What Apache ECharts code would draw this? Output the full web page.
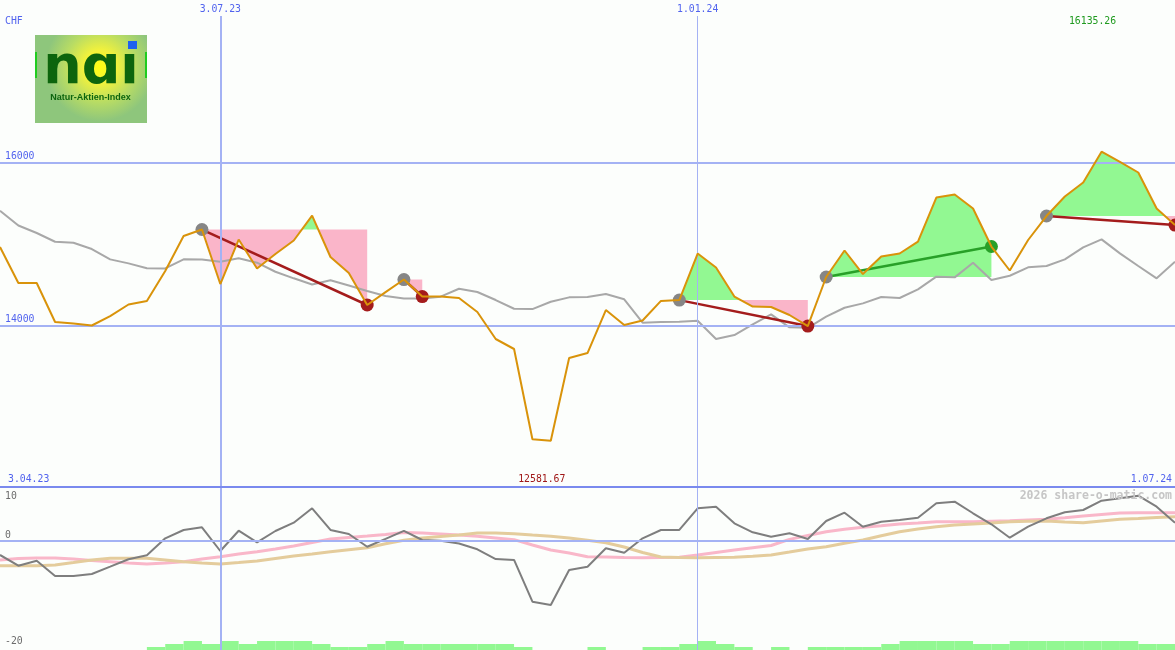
<!DOCTYPE html>
<html><head><meta charset="utf-8">
<script src="https://cdn.jsdelivr.net/npm/echarts@6/dist/echarts.min.js"></script>
<style>html,body{margin:0;padding:0;background:#fcfefc}#c{width:1175px;height:650px}</style>
</head><body><div id="c"></div>
<script>
// ---- data (weekly points, index 0 .. 64) ----
const currency = 'CHF';
const dateTickIdx = [12, 38];
const dateTickLabels = ['3.07.23', '1.01.24'];
const startLabel = '3.04.23';
const endLabel = '1.07.24';
const priceTicks = [14000, 16000];
const momTicks = [10, 0, -20];
const watermark = '2026 share-o-matic.com';

const price = [14963,14520,14520,14041,14022,13998,14114,14256,14299,14668,
  15098,15178,14508,15055,14698,14877,15043,15350,14840,14643,
  14250,14409,14563,14354,14354,14336,14164,13832,13709,12600,
  12581.67,13598,13659,14188,14004,14059,14300,14310,14883,14711,
  14354,14231,14225,14127,13991,14594,14920,14631,14846,14883,
  15030,15571,15608,15436,14969,14674,15049,15344,15584,15756,
  16135.26,16010,15879,15436,15233];
const avg = [15409,15227,15135,15028,15016,14938,14811,14762,14701,14700,
  14811,14810,14782,14824,14770,14659,14578,14502,14555,14489,
  14422,14360,14330,14330,14352,14450,14410,14311,14204,14200,
  14290,14344,14348,14385,14320,14032,14041,14044,14057,13832,
  13881,14012,14135,13975,13970,14106,14216,14270,14348,14336,
  14443,14598,14590,14770,14557,14610,14713,14729,14811,14959,
  15057,14885,14729,14578,14782];
const momentum = [-2.64,-4.66,-3.72,-6.6,-6.6,-6.23,-4.85,-3.45,-2.7,0.51,
  2.08,2.58,-1.89,1.94,-0.25,1.89,3.45,6.17,2.08,1.32,
  -1.08,0.4,1.9,0.19,0.06,-0.47,-1.57,-3.4,-3.58,-11.45,
  -12.08,-5.47,-4.85,-1.38,-2.21,0.51,2.08,2.08,6.17,6.47,
  3.34,1.64,0.81,1.45,0.38,3.77,5.34,2.7,3.64,3.96,
  4.4,7.11,7.42,5.23,3.15,0.62,2.7,4.28,5.42,5.85,
  7.6,8.06,8.55,6.47,3.45];
const signalPink = [-3.58,-3.3,-3.21,-3.21,-3.4,-3.68,-3.91,-4.15,-4.34,-4.15,
  -3.91,-3.4,-2.96,-2.45,-2.02,-1.51,-0.94,-0.28,0.38,0.66,
  0.94,1.23,1.6,1.51,1.32,1.13,0.89,0.57,0.25,-0.75,
  -1.7,-2.26,-2.96,-3.02,-3.11,-3.15,-3.11,-3.08,-2.64,-2.17,
  -1.7,-1.26,-0.85,0.3,1.05,1.75,2.2,2.58,2.89,3.21,
  3.4,3.64,3.64,3.64,3.74,3.83,3.96,4.09,4.4,4.72,
  5,5.28,5.34,5.34,5.34];
const signalTan = [-4.66,-4.66,-4.66,-4.53,-4.06,-3.58,-3.26,-3.26,-3.26,-3.58,
  -3.91,-4.15,-4.34,-4.06,-3.77,-3.3,-2.83,-2.45,-2.02,-1.64,
  -1.26,-0.51,0.13,0.57,0.85,1.13,1.51,1.51,1.38,1.13,
  0.89,0.57,0.13,-0.32,-1.13,-2.17,-3.02,-3.11,-3.15,-3.11,
  -3.08,-2.87,-2.64,-2.08,-1.51,-1.08,-0.43,0.19,1.0,1.75,
  2.26,2.7,3.02,3.21,3.4,3.64,3.72,3.77,3.58,3.45,
  3.77,4.09,4.25,4.43,4.58];
// one value per week interval (0..63)
const volume = [0,0,0,0,0,0,0,0,1,2,3,2,3,2,3,3,3,2,1,1,2,3,
  2,2,2,2,2,2,1,0,0,0,1,0,0,1,1,2,3,2,1,0,1,0,
  1,1,1,1,2,3,3,3,3,2,2,3,3,3,3,3,3,3,2,2];
const sigStart = [11, 22, 37, 45, 57];
const sigEnd = [20, 23, 44, 54, 64];

// ---- styles ----
const BLUE = '#5163ee';
const GRIDC = '#a4b2f4';
const mono = '"DejaVu Sans Mono", monospace';
const N = price.length - 1;

const xy = arr => arr.map((v, i) => [i, v]);

function fillPts(s, e, L, above) {
  const pts = [[s, L]];
  for (let i = s; i <= e; i++) {
    const v = price[i];
    pts.push([i, above ? Math.max(v, L) : Math.min(v, L)]);
    if (i < e) {
      const w = price[i + 1];
      if ((v - L) * (w - L) < 0) {
        const t = (L - v) / (w - v);
        pts.push([i + t, L]);
      }
    }
  }
  pts.push([e, L]);
  return pts;
}

const chart = echarts.init(document.getElementById('c'), null, {renderer: 'canvas'});
const option = {
  backgroundColor: '#fcfefc',
  animation: false,
  grid: [
    {left: 0, right: 0, top: 0, height: 488},
    {left: 0, right: 0, top: 488, height: 162},
    {left: 0, right: 0, top: 641, height: 9}
  ],
  xAxis: [0, 1, 2].map(g => ({type: 'value', gridIndex: g, min: 0, max: N, show: false})),
  yAxis: [
    {type: 'value', gridIndex: 0, min: 12000, max: 18000, show: false},
    {type: 'value', gridIndex: 1, min: -20.57, max: 10, show: false},
    {type: 'value', gridIndex: 2, min: 0, max: 3, show: false}
  ],
  series: [
    { // volume-like bars
      type: 'custom', xAxisIndex: 2, yAxisIndex: 2, z: 1, silent: true,
      data: volume.map((v, i) => [i, v]),
      renderItem: (params, api) => {
        const i = api.value(0), v = api.value(1);
        if (!v) return null;
        const a = api.coord([i, v]), b = api.coord([i + 1, 0]);
        return {type: 'rect', shape: {x: a[0], y: a[1], width: b[0] - a[0], height: b[1] - a[1]}, style: {fill: '#92f892'}};
      }
    },
    { // signal fills
      type: 'custom', xAxisIndex: 0, yAxisIndex: 0, z: 1, silent: true,
      data: sigStart.map((s, k) => [s, sigEnd[k], price[s]]),
      encode: {x: [0, 1], y: 2},
      renderItem: (params, api) => {
        const k = params.dataIndex;
        const s = sigStart[k], e = sigEnd[k], L = price[s];
        const up = fillPts(s, e, L, true).map(p => api.coord(p));
        const dn = fillPts(s, e, L, false).map(p => api.coord(p));
        return {type: 'group', children: [
          {type: 'polygon', shape: {points: up}, style: {fill: '#92f892'}},
          {type: 'polygon', shape: {points: dn}, style: {fill: '#fab5c9'}}
        ]};
      }
    },
    { // grid lines main panel
      type: 'line', xAxisIndex: 0, yAxisIndex: 0, data: [], z: 2, silent: true,
      markLine: {
        silent: true, symbol: ['none', 'none'], label: {show: false},
        data: [
          ...priceTicks.map(v => ({yAxis: v, lineStyle: {color: GRIDC, width: 2, type: 'solid'}})),
          ...dateTickIdx.map((d, k) => [
            {coord: [d, 17803], lineStyle: {color: GRIDC, width: k === 0 ? 2 : 1, type: 'solid'}},
            {coord: [d, 12000]}
          ])
        ]
      }
    },
    { // grid lines lower panel
      type: 'line', xAxisIndex: 1, yAxisIndex: 1, data: [], z: 2, silent: true,
      markLine: {
        silent: true, symbol: ['none', 'none'], label: {show: false},
        data: [
          {yAxis: 0, lineStyle: {color: GRIDC, width: 2, type: 'solid'}},
          ...dateTickIdx.map((d, k) => ({xAxis: d, lineStyle: {color: GRIDC, width: k === 0 ? 2 : 1, type: 'solid'}}))
        ]
      }
    },
    {
      type: 'line', xAxisIndex: 0, yAxisIndex: 0, data: xy(avg), z: 3, symbol: 'none',
      lineStyle: {color: '#a8a8a8', width: 2}
    },
    {
      type: 'lines', coordinateSystem: 'cartesian2d', xAxisIndex: 0, yAxisIndex: 0, z: 4,
      data: sigStart.map((s, k) => {
        const e = sigEnd[k];
        return {coords: [[s, price[s]], [e, price[e]]],
          lineStyle: {color: price[e] >= price[s] ? '#28a028' : '#a41c1c', width: 2.5, opacity: 1}};
      })
    },
    {
      type: 'scatter', xAxisIndex: 0, yAxisIndex: 0, z: 5, symbolSize: 13,
      data: [
        ...sigStart.map(s => ({value: [s, price[s]], itemStyle: {color: '#868686', opacity: 1}})),
        ...sigEnd.map((e, k) => ({value: [e, price[e]],
          itemStyle: {color: price[e] >= price[sigStart[k]] ? '#28a028' : '#a41c1c', opacity: 1}}))
      ]
    },
    {
      type: 'line', xAxisIndex: 0, yAxisIndex: 0, data: xy(price), z: 6, symbol: 'none',
      lineStyle: {color: '#d9930a', width: 2}
    },
    {
      type: 'line', xAxisIndex: 1, yAxisIndex: 1, data: xy(signalPink), z: 3, symbol: 'none',
      lineStyle: {color: '#f9b7c9', width: 3}
    },
    {
      type: 'line', xAxisIndex: 1, yAxisIndex: 1, data: xy(signalTan), z: 3, symbol: 'none',
      lineStyle: {color: '#e4cc9c', width: 3}
    },
    {
      type: 'line', xAxisIndex: 1, yAxisIndex: 1, data: xy(momentum), z: 4, symbol: 'none',
      lineStyle: {color: '#7e7e7e', width: 2}
    }
  ]
};
chart.setOption(option);

// ---- texts and decorations, positioned through the chart's scales ----
const P = (g, x, y) => chart.convertToPixel({gridIndex: g}, [x, y]);
const els = [];
function txt(x, y, text, fill, align, font) {
  els.push({type: 'text', x: x, y: y, z: 50, silent: true,
    style: {text: text, fill: fill, font: font || ('9.8px ' + mono),
      textAlign: align, align: align, textVerticalAlign: 'middle', verticalAlign: 'middle'}});
}
els.push({type: 'rect', z: 40, silent: true, shape: {x: 0, y: P(1, 0, 10)[1] - 2, width: 1175, height: 2}, style: {fill: '#7a8aee'}});
txt(5, 21, currency, BLUE, 'left');
dateTickIdx.forEach((d, k) => txt(P(0, d, 17803)[0], 9, dateTickLabels[k], BLUE, 'center'));
priceTicks.forEach(v => txt(5, P(0, 0, v)[1] - 6, String(v), BLUE, 'left'));
let iMax = 0, iMin = 0;
price.forEach((v, i) => { if (v > price[iMax]) iMax = i; if (v < price[iMin]) iMin = i; });
txt(P(0, iMax, 0)[0] - 9, 21, price[iMax].toFixed(2), '#1f9a1f', 'center');
txt(P(0, iMin, 0)[0] - 9, 479, price[iMin].toFixed(2), '#a01818', 'center');
txt(8, 479, startLabel, BLUE, 'left');
txt(1172, 479, endLabel, BLUE, 'right');
momTicks.forEach(v => txt(5, Math.max(P(1, 0, v)[1] - 6, 496), String(v), '#6c6c6c', 'left'));
txt(1172, 496, watermark, '#c6c6c6', 'right', 'bold 11.5px ' + mono);

// logo
els.push({type: 'group', x: 35, y: 35, z: 45, silent: true, children: [
  {type: 'rect', shape: {x: 0, y: 0, width: 112, height: 88},
    style: {fill: {type: 'radial', x: 0.58, y: 0.36, r: 0.62, colorStops: [
      {offset: 0, color: '#ffff12'}, {offset: 0.3, color: '#f2f23c'}, {offset: 0.65, color: '#b8dc64'}, {offset: 1, color: '#8ec67c'}]}}},
  {type: 'rect', shape: {x: 0, y: 17, width: 2, height: 26}, style: {fill: '#20cc20'}},
  {type: 'rect', shape: {x: 110, y: 17, width: 2, height: 26}, style: {fill: '#20cc20'}},
  {type: 'text', x: 56, y: 34, style: {text: 'n\u0251\u0131', font: 'bold 54px "DejaVu Sans"', fill: '#0d650d',
    textAlign: 'center', align: 'center', textVerticalAlign: 'middle', verticalAlign: 'middle'}},
  {type: 'rect', shape: {x: 93, y: 6, width: 9, height: 8}, style: {fill: '#1f60f0'}},
  {type: 'text', x: 55.5, y: 62.5, style: {text: 'Natur-Aktien-Index', font: 'bold 9px "Liberation Sans"', fill: '#0d650d',
    textAlign: 'center', align: 'center', textVerticalAlign: 'middle', verticalAlign: 'middle'}}
]});
chart.setOption({graphic: {elements: els}});
</script>
</body></html>
